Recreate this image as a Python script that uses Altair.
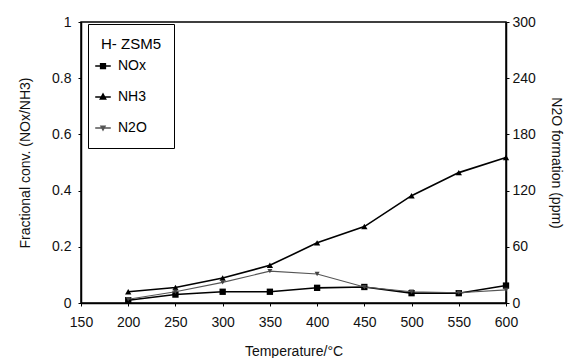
import altair as alt
import pandas as pd

temps = [200, 250, 300, 350, 400, 450, 500, 550, 600]
nox = [0.01, 0.03, 0.04, 0.04, 0.054, 0.057, 0.035, 0.035, 0.062]
nh3 = [0.04, 0.055, 0.089, 0.134, 0.214, 0.272, 0.382, 0.464, 0.518]
n2o_ppm = [4, 12, 22, 34, 31, 17, 12, 11, 14]
series = ["NOx", "NH3", "N2O"]

df = pd.DataFrame({"T": temps, "NOx": nox, "NH3": nh3, "N2O": n2o_ppm})

FONT = "Liberation Sans"
x = alt.X("T:Q", scale=alt.Scale(domain=[150, 600], nice=False),
          axis=alt.Axis(title="Temperature/°C", values=list(range(150, 601, 50)),
                        grid=False, tickSize=3, labelPadding=9, titlePadding=15,
                        labelFlush=False))
yl_axis = alt.Axis(title="Fractional conv. (NOx/NH3)", values=[0, 0.2, 0.4, 0.6, 0.8, 1],
                   format="~g", grid=False, tickSize=3, labelPadding=7, titlePadding=19)
yl_scale = alt.Scale(domain=[0, 1], nice=False)

base = alt.Chart(df)

nox_line = base.mark_line(color="black", strokeWidth=1.6).encode(
    x=x, y=alt.Y("NOx:Q", scale=yl_scale, axis=yl_axis))
nox_pts = base.mark_point(shape="square", filled=True, color="black", size=40, opacity=1).encode(
    x=x, y=alt.Y("NOx:Q", scale=yl_scale, axis=yl_axis))
nh3_line = base.mark_line(color="black", strokeWidth=1.6).encode(
    x=x, y=alt.Y("NH3:Q", scale=yl_scale, axis=yl_axis))
nh3_pts = base.mark_point(shape="triangle-up", filled=True, color="black", size=40, opacity=1).encode(
    x=x, y=alt.Y("NH3:Q", scale=yl_scale, axis=yl_axis))

legend_paths = [
    "M-2.2,0H2.2M-0.7,-0.7H0.7V0.7H-0.7Z",
    "M-2.2,0H2.2M0,-0.9L0.8,0.6H-0.8Z",
    "M-2.2,0H2.2M-0.6,-0.5H0.6L0,0.6Z",
]
leg = alt.Legend(title="H- ZSM5", orient="none", legendX=7, legendY=2,
                 strokeColor="black", fillColor="white", padding=13,
                 titleFontSize=15, titleFontWeight="normal", titleFont=FONT,
                 labelFontSize=14, labelFont=FONT, rowPadding=17, titlePadding=7,
                 symbolSize=50, symbolStrokeWidth=1.3, labelOffset=8, symbolOffset=-5)
dummy = alt.Chart(pd.DataFrame({"s": series, "v": [0, 0, 0]})).transform_filter(
    "datum.v > 1").mark_point(filled=True, size=50, opacity=1).encode(
    x=alt.X("v:Q", scale=alt.Scale(domain=[150, 600], nice=False)),
    y=alt.Y("v:Q", scale=yl_scale, axis=yl_axis),
    shape=alt.Shape("s:N", scale=alt.Scale(domain=series, range=legend_paths), legend=leg),
    fill=alt.Fill("s:N", scale=alt.Scale(domain=series, range=["black", "black", "#555"]), legend=leg),
    stroke=alt.Stroke("s:N", scale=alt.Scale(domain=series, range=["black", "black", "#555"]), legend=leg),
)

left = alt.layer(nox_line, nh3_line, nox_pts, nh3_pts, dummy)

yr_axis = alt.Axis(title="N2O formation (ppm)", values=[0, 60, 120, 180, 240, 300],
                   grid=False, tickSize=3, labelPadding=3, titlePadding=13, orient="right")
yr_scale = alt.Scale(domain=[0, 300], nice=False)
n2o_line = base.mark_line(color="#555", strokeWidth=1.1).encode(
    x=x, y=alt.Y("N2O:Q", scale=yr_scale, axis=yr_axis))
n2o_pts = base.mark_point(shape="triangle-down", filled=True, color="#444", size=25, opacity=1).encode(
    x=x, y=alt.Y("N2O:Q", scale=yr_scale, axis=yr_axis))
right = alt.layer(n2o_line, n2o_pts)

chart = alt.layer(left, right).resolve_scale(y="independent").properties(
    width=425, height=281, padding={"left": 10, "top": 7, "right": 3, "bottom": 0}
).configure_view(stroke="black", strokeWidth=1.5).configure_axis(
    domainColor="black", domainWidth=1.5, tickColor="black", labelColor="#111",
    titleColor="#111", labelFont=FONT, titleFont=FONT, labelFontSize=14,
    titleFontSize=14, titleFontWeight="normal"
)

chart.save("out.html", embed_options={"renderer": "svg", "actions": False})
